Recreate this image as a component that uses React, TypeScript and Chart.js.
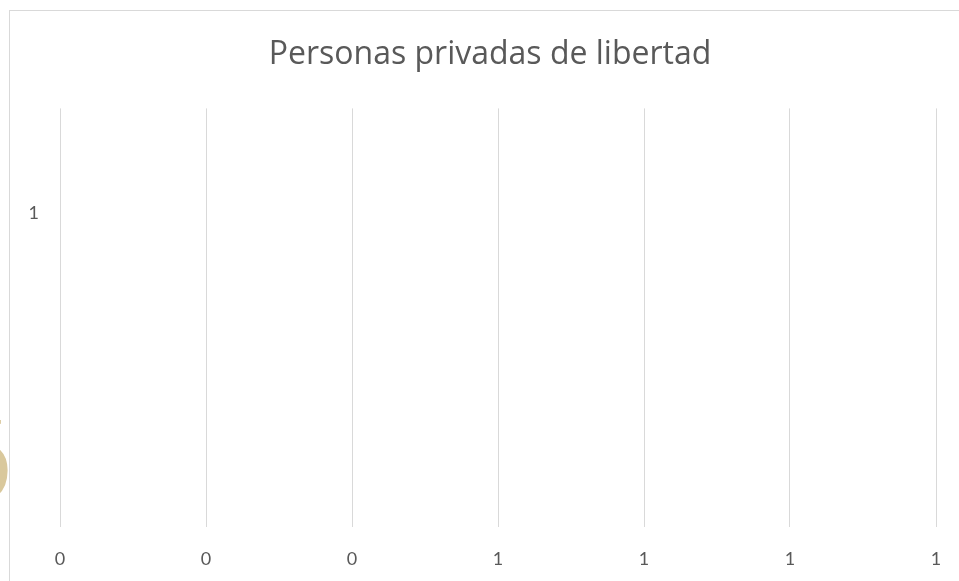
import React, { useEffect, useRef } from "react";
import { Chart, registerables } from "chart.js";

Chart.register(...registerables);

const categories: string[] = ["1", ""];
const values: number[] = [0, 0];
const xTickMin = 0;
const xTickMax = 1.2;
const xTickStep = 0.2;
const chartTitle = "Personas privadas de libertad";

export default function App() {
  const ref = useRef<HTMLCanvasElement | null>(null);

  useEffect(() => {
    if (!ref.current) return;
    const chart = new Chart(ref.current, {
      type: "bar",
      data: {
        labels: categories,
        datasets: [
          {
            label: "Personas privadas de libertad",
            data: values,
            backgroundColor: "#4472c4",
          },
        ],
      },
      options: {
        indexAxis: "y",
        responsive: false,
        animation: false,
        layout: { padding: { left: 0, right: 0, top: 0, bottom: 0 } },
        plugins: {
          legend: { display: false },
          tooltip: { enabled: false },
          title: {
            display: true,
            text: chartTitle,
            color: "#595959",
            font: { family: "'Open Sans', sans-serif", size: 32, weight: "normal" },
            padding: { top: 36, bottom: 34 },
          },
        },
        scales: {
          x: {
            min: xTickMin,
            max: xTickMax,
            ticks: {
              stepSize: xTickStep,
              color: "#595959",
              font: { family: "Lato, sans-serif", size: 18 },
              padding: 21,
              maxRotation: 0,
              callback: (v: any) => String(Math.round(Number(v))),
            },
            grid: { color: "#d9d9d9", lineWidth: 1, drawTicks: false },
            border: { display: false },
            afterFit: (s: any) => {
              s.height = 54;
            },
          },
          y: {
            type: "category",
            ticks: {
              color: "#595959",
              font: { family: "Lato, sans-serif", size: 18 },
              padding: 13,
            },
            grid: { display: false },
            border: { display: false },
            afterFit: (s: any) => {
              s.width = 60;
            },
          },
          yRight: {
            type: "linear",
            position: "right",
            display: true,
            ticks: { display: false },
            grid: { display: false },
            border: { display: false },
            afterFit: (s: any) => {
              s.width = 44;
            },
          },
        },
      },
    });
    return () => chart.destroy();
  }, []);

  return (
    <div
      style={{
        position: "fixed",
        left: 0,
        top: 0,
        width: 959,
        height: 581,
        overflow: "hidden",
        background: "#ffffff",
      }}
    >
      <div
        style={{
          position: "absolute",
          left: 0,
          top: 420,
          width: 9,
          height: 74,
          overflow: "hidden",
        }}
      >
        <div
          style={{
            position: "absolute",
            left: -83,
            top: -36,
            fontFamily: "'DejaVu Sans', sans-serif",
            fontWeight: "bold",
            fontSize: 140,
            color: "#d9c89c",
            lineHeight: 1,
          }}
        >
          S
        </div>
      </div>
      <div
        style={{
          position: "absolute",
          left: 9,
          top: 10,
          width: 1000,
          height: 700,
          border: "1px solid #d9d9d9",
          background: "transparent",
        }}
      />
      <canvas
        ref={ref}
        width={980}
        height={581}
        style={{ position: "absolute", left: 0, top: 0, width: 980, height: 581 }}
      />
    </div>
  );
}
